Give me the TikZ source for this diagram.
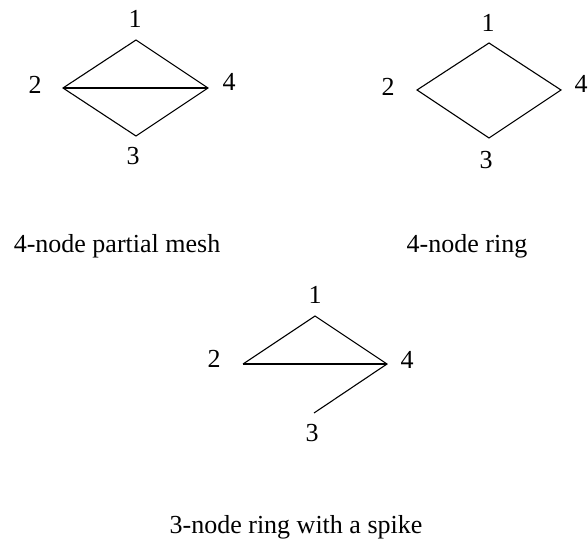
\documentclass[tikz,border=0pt]{standalone}
\usepackage{fontspec}
\setmainfont{Liberation Serif}
\begin{document}
\begin{tikzpicture}[x=1pt,y=-1pt,
  lbl/.style={inner sep=0pt,font=\fontsize{26}{30}\selectfont},
  captxt/.style={inner sep=0pt,anchor=base,font=\fontsize{26}{30}\selectfont},
  linkline/.style={line width=1.1pt,line join=miter},
  heavylink/.style={line width=2pt}]
\useasboundingbox (0,0) rectangle (588,540);
% diagram 1: partial mesh
\coordinate (a1) at (136,40);
\coordinate (a2) at (63,88);
\coordinate (a3) at (136,136);
\coordinate (a4) at (208,88);
\draw[linkline] (a2) -- (a1) -- (a4) -- (a3) -- cycle;
\draw[heavylink] (a2) -- (a4);
\node[lbl] (la1) at (135,18.5) {1};
\node[lbl] (la2) at (35,84.5) {2};
\node[lbl] (la4) at (229,81.5) {4};
\node[lbl] (la3) at (133,156.5) {3};
\node[captxt] (ca) at (117,252) {4-node partial mesh};
% diagram 2: ring
\coordinate (b1) at (489,43);
\coordinate (b2) at (417,90);
\coordinate (b3) at (489,138);
\coordinate (b4) at (561,90);
\draw[linkline] (b2) -- (b1) -- (b4) -- (b3) -- cycle;
\node[lbl] (lb1) at (488,22.5) {1};
\node[lbl] (lb2) at (388,87) {2};
\node[lbl] (lb4) at (581,83.5) {4};
\node[lbl] (lb3) at (486,160) {3};
\node[captxt] (cb) at (467,252) {4-node ring};
% diagram 3: ring with spike
\coordinate (c1) at (315,316);
\coordinate (c2) at (243,364);
\coordinate (c4) at (387,364);
\coordinate (c3) at (314,413);
\draw[linkline] (c2) -- (c1) -- (c4) -- (c3);
\draw[heavylink] (c2) -- (c4);
\node[lbl] (lc1) at (315,295) {1};
\node[lbl] (lc2) at (214,359) {2};
\node[lbl] (lc4) at (407,359.5) {4};
\node[lbl] (lc3) at (312,433.5) {3};
\node[captxt] (cc) at (296,533) {3-node ring with a spike};
\end{tikzpicture}
\end{document}
